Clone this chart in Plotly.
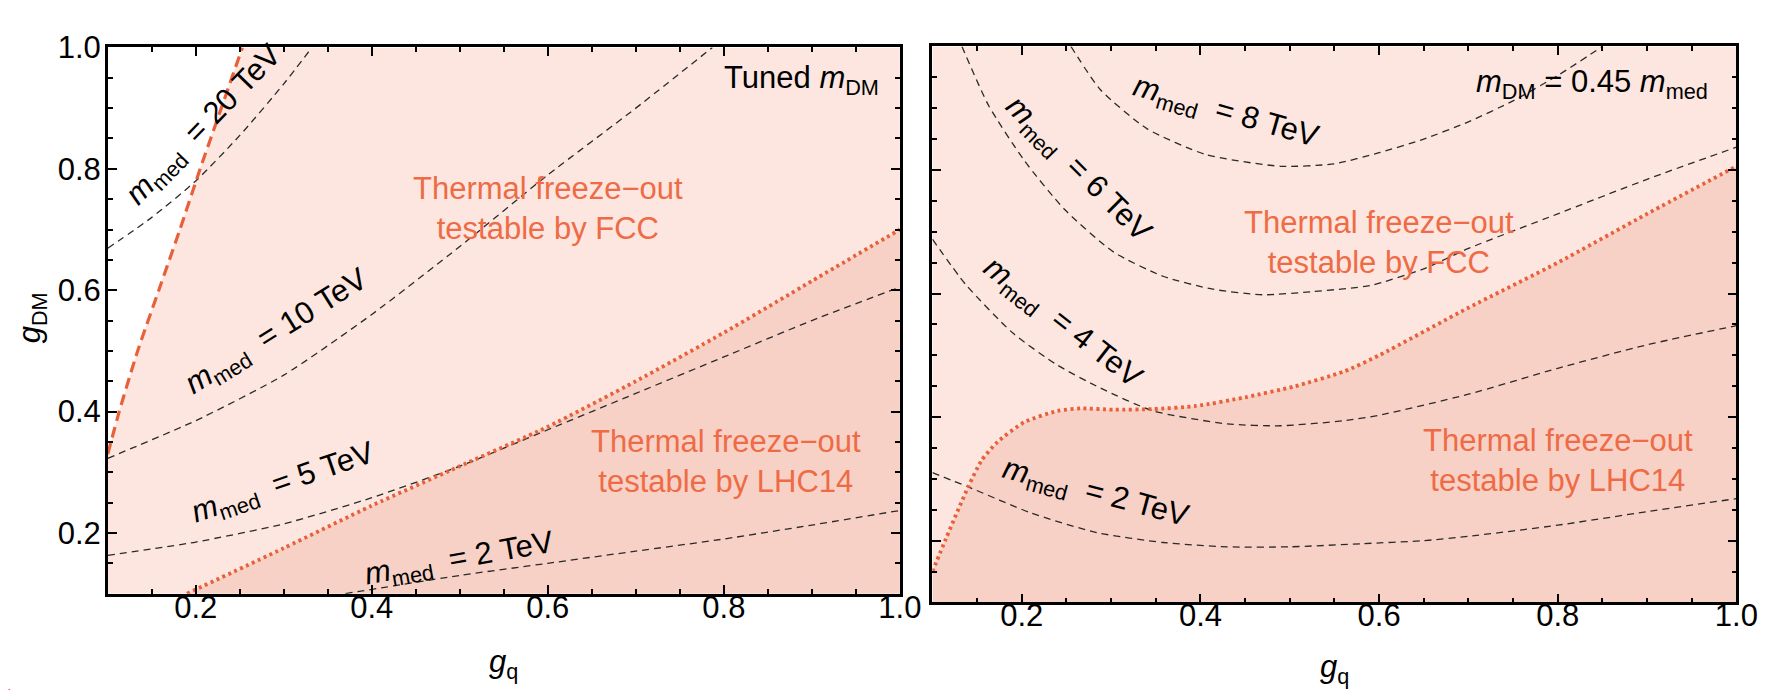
import plotly.graph_objects as go

# ---------------- data ----------------
# Left panel: "Tuned m_DM"
L_fcc_gq  = [0.100, 0.113, 0.134, 0.158, 0.182, 0.205, 0.229, 0.253]
L_fcc_gdm = [0.330, 0.400, 0.500, 0.600, 0.700, 0.800, 0.900, 1.000]

L_lhc_gq  = [0.19, 0.30, 0.40, 0.50, 0.60, 0.70, 0.80, 0.90, 1.00]
L_lhc_gdm = [0.100, 0.175, 0.245, 0.310, 0.375, 0.450, 0.530, 0.615, 0.700]

L_m20_gq  = [0.10, 0.15, 0.20, 0.25, 0.30, 0.332]
L_m20_gdm = [0.669, 0.720, 0.780, 0.855, 0.940, 1.000]
L_m10_gq  = [0.10, 0.20, 0.30, 0.40, 0.50, 0.60, 0.70, 0.787]
L_m10_gdm = [0.323, 0.385, 0.460, 0.560, 0.672, 0.790, 0.900, 1.000]
L_m5_gq   = [0.10, 0.20, 0.30, 0.40, 0.50, 0.60, 0.70, 0.80, 0.90, 1.00]
L_m5_gdm  = [0.163, 0.185, 0.215, 0.258, 0.310, 0.370, 0.430, 0.490, 0.550, 0.605]
L_m2_gq   = [0.37, 0.50, 0.60, 0.70, 0.80, 0.90, 1.00]
L_m2_gdm  = [0.100, 0.130, 0.150, 0.170, 0.190, 0.213, 0.237]

# Right panel: m_DM = 0.45 m_med
R_lhc_gq  = [0.100, 0.115, 0.140, 0.155, 0.173, 0.203, 0.240, 0.266, 0.303, 0.347,
             0.395, 0.450, 0.506, 0.561, 0.600, 0.700, 0.800, 0.900, 1.000]
R_lhc_gdm = [0.150, 0.203, 0.287, 0.330, 0.360, 0.392, 0.410, 0.414, 0.412, 0.413,
             0.418, 0.432, 0.450, 0.474, 0.500, 0.577, 0.650, 0.729, 0.806]

R_m8_gq   = [0.255, 0.288, 0.340, 0.406, 0.490, 0.550, 0.600, 0.650, 0.700, 0.750, 0.800, 0.850]
R_m8_gdm  = [1.000, 0.930, 0.867, 0.825, 0.806, 0.810, 0.828, 0.850, 0.878, 0.912, 0.953, 1.000]
R_m6_gq   = [0.133, 0.163, 0.203, 0.248, 0.303, 0.358, 0.414, 0.470, 0.524, 0.590,
             0.650, 0.700, 0.800, 0.900, 1.000]
R_m6_gdm  = [1.000, 0.904, 0.815, 0.736, 0.667, 0.628, 0.607, 0.598, 0.603, 0.613,
             0.640, 0.673, 0.729, 0.785, 0.837]
R_m4_gq   = [0.100, 0.137, 0.190, 0.240, 0.288, 0.347, 0.430, 0.490, 0.560, 0.600,
             0.700, 0.800, 0.900, 1.000]
R_m4_gdm  = [0.688, 0.615, 0.536, 0.484, 0.447, 0.410, 0.389, 0.386, 0.394, 0.403,
             0.437, 0.479, 0.517, 0.548]
R_m2_gq   = [0.100, 0.140, 0.210, 0.284, 0.358, 0.430, 0.500, 0.580, 0.650, 0.700,
             0.800, 0.900, 1.000]
R_m2_gdm  = [0.310, 0.287, 0.245, 0.213, 0.197, 0.190, 0.190, 0.195, 0.200, 0.207,
             0.225, 0.247, 0.268]

AXIS_RANGE = [0.1, 1.0]
TICK_VALS  = [0.2, 0.4, 0.6, 0.8, 1.0]
TICK_TEXT  = ["0.2", "0.4", "0.6", "0.8", "1.0"]

# ---------------- styles ----------------
LIGHT = "#FCE6DF"
DARK = "#F7D1C6"
RED = "#E8603A"
ORANGE_TXT = "#EE6B45"
FONT = "Liberation Sans, Arial, Helvetica, sans-serif"
FS = 31

lo, hi = AXIS_RANGE

fig = go.Figure()

def add_panel(xa, ya, light_x, light_y, dark_x, dark_y):
    fig.add_trace(go.Scatter(x=light_x, y=light_y, fill="toself", fillcolor=LIGHT,
                             line=dict(width=0), mode="lines", hoverinfo="skip",
                             showlegend=False, xaxis=xa, yaxis=ya))
    fig.add_trace(go.Scatter(x=dark_x, y=dark_y, fill="toself", fillcolor=DARK,
                             line=dict(width=0), mode="lines", hoverinfo="skip",
                             showlegend=False, xaxis=xa, yaxis=ya))

# Left panel fills
add_panel("x", "y",
          L_fcc_gq + [hi, hi, lo], L_fcc_gdm + [hi, lo, lo],
          L_lhc_gq + [hi], L_lhc_gdm + [lo])
# Right panel fills
add_panel("x2", "y2",
          [lo, lo, hi, hi], [lo, hi, hi, lo],
          R_lhc_gq + [hi, lo], R_lhc_gdm + [lo, lo])

def dashed(xa, ya, xs, ys):
    fig.add_trace(go.Scatter(x=xs, y=ys, mode="lines", showlegend=False,
                             line=dict(color="#2a2a2a", width=1.3, dash="7px,5px",
                                       shape="spline", smoothing=0.6),
                             hoverinfo="skip", xaxis=xa, yaxis=ya))

for xs, ys in [(L_m20_gq, L_m20_gdm), (L_m10_gq, L_m10_gdm), (L_m5_gq, L_m5_gdm), (L_m2_gq, L_m2_gdm)]:
    dashed("x", "y", xs, ys)
for xs, ys in [(R_m8_gq, R_m8_gdm), (R_m6_gq, R_m6_gdm), (R_m4_gq, R_m4_gdm), (R_m2_gq, R_m2_gdm)]:
    dashed("x2", "y2", xs, ys)

# Boundary lines
fig.add_trace(go.Scatter(x=L_fcc_gq, y=L_fcc_gdm, mode="lines", showlegend=False,
                         line=dict(color=RED, width=3.2, dash="11px,6px", shape="spline", smoothing=0.6),
                         hoverinfo="skip", xaxis="x", yaxis="y"))
fig.add_trace(go.Scatter(x=L_lhc_gq, y=L_lhc_gdm, mode="lines", showlegend=False,
                         line=dict(color=RED, width=3.8, dash="3px,3.5px", shape="spline", smoothing=0.6),
                         hoverinfo="skip", xaxis="x", yaxis="y"))
fig.add_trace(go.Scatter(x=R_lhc_gq, y=R_lhc_gdm, mode="lines", showlegend=False,
                         line=dict(color=RED, width=3.8, dash="3px,3.5px", shape="spline", smoothing=0.6),
                         hoverinfo="skip", xaxis="x2", yaxis="y2"))

W, H = 1784, 690
def axis(domain, standoff, showlabels=True, anchor=None):
    d = dict(domain=domain, range=AXIS_RANGE, tickvals=TICK_VALS, ticktext=TICK_TEXT,
             showticklabels=showlabels, ticks="inside", ticklen=9, tickwidth=2, tickcolor="black",
             minor=dict(ticks="inside", ticklen=5, tickwidth=1.5, dtick=0.05, tick0=0, tickcolor="black"),
             showline=True, linewidth=2.5, linecolor="black", mirror="ticks",
             showgrid=False, zeroline=False, ticklabelstandoff=standoff,
             tickfont=dict(family=FONT, size=FS, color="black"))
    if anchor:
        d["anchor"] = anchor
    return d

xL = [101 / W, 903 / W]
yL = [1 - 583 / H, 1 - 23 / H]
xR = [936 / W, 1750 / W]
yR = [1 - 592 / H, 1 - 22 / H]

fig.update_layout(
    width=W, height=H, margin=dict(l=0, r=0, t=0, b=0),
    paper_bgcolor="white", plot_bgcolor="white",
    font=dict(family=FONT, size=FS, color="black"),
    xaxis=axis(xL, -16, anchor="y"),
    yaxis=axis(yL, -2, anchor="x"),
    xaxis2=axis(xR, -16, anchor="y2"),
    yaxis2=axis(yR, 0, showlabels=False, anchor="x2"),
)

def ann(xref, yref, x, y, text, angle=0, color="black", xanchor="center"):
    fig.add_annotation(xref=xref, yref=yref, x=x, y=y, text=text, textangle=angle,
                       showarrow=False, font=dict(family=FONT, size=FS, color=color),
                       xanchor=xanchor, yanchor="middle")

M = "<i>m</i><sub>med</sub>"
# Left panel labels
ann("x", "y", 0.210, 0.870, M + "  = 20 TeV", angle=-46)
ann("x", "y", 0.292, 0.530, M + "  = 10 TeV", angle=-32)
ann("x", "y", 0.300, 0.280, M + "  = 5 TeV", angle=-19)
ann("x", "y", 0.500, 0.155, M + "  = 2 TeV", angle=-10)
ann("x", "y", 0.600, 0.735, "Thermal freeze−out<br>testable by FCC", color=ORANGE_TXT)
ann("x", "y", 0.803, 0.317, "Thermal freeze−out<br>testable by LHC14", color=ORANGE_TXT)
ann("x", "y", 0.978, 0.947, "Tuned <i>m</i><sub>DM</sub>", xanchor="right")

# Right panel labels
ann("x2", "y2", 0.428, 0.892, M + "  = 8 TeV", angle=16)
ann("x2", "y2", 0.262, 0.800, M + "  = 6 TeV", angle=45)
ann("x2", "y2", 0.245, 0.550, M + "  = 4 TeV", angle=38)
ann("x2", "y2", 0.283, 0.276, M + "  = 2 TeV", angle=15)
ann("x2", "y2", 0.600, 0.683, "Thermal freeze−out<br>testable by FCC", color=ORANGE_TXT)
ann("x2", "y2", 0.800, 0.330, "Thermal freeze−out<br>testable by LHC14", color=ORANGE_TXT)
ann("x2", "y2", 0.970, 0.940, "<i>m</i><sub>DM</sub> = 0.45 <i>m</i><sub>med</sub>", xanchor="right")

# Axis titles
fig.add_annotation(xref="paper", yref="paper", x=24 / W, y=1 - 300 / H, text="<i>g</i><sub>DM</sub>",
                   textangle=-90, showarrow=False, xanchor="center", yanchor="middle",
                   font=dict(family=FONT, size=FS, color="black"))
fig.add_annotation(xref="paper", yref="paper", x=502 / W, y=1 - 655 / H, text="<i>g</i><sub>q</sub>",
                   showarrow=False, xanchor="center", yanchor="middle",
                   font=dict(family=FONT, size=FS, color="black"))
fig.add_annotation(xref="paper", yref="paper", x=1343 / W, y=1 - 660 / H, text="<i>g</i><sub>q</sub>",
                   showarrow=False, xanchor="center", yanchor="middle",
                   font=dict(family=FONT, size=FS, color="black"))

# small orange arc fragment in the lower-left corner
fig.add_shape(type="path", xref="paper", yref="paper",
              path=f"M 0 {1 - 682 / H} Q {4 / W} {1 - 685 / H} {9 / W} 0",
              line=dict(color="#F05A28", width=3.5))

fig.write_html("out.html")
